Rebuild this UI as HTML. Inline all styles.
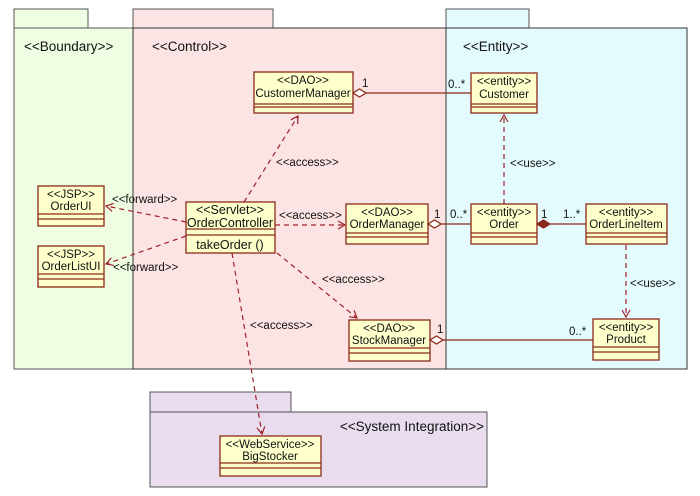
<!DOCTYPE html>
<html><head><meta charset="utf-8"><style>
html,body{margin:0;padding:0;background:#fff;width:700px;height:496px;overflow:hidden}
svg text{font-family:"Liberation Sans","Noto Sans CJK JP",sans-serif;fill:#111}
</style></head><body>
<svg width="700" height="496" viewBox="0 0 700 496" xmlns="http://www.w3.org/2000/svg">
<defs>
<marker id="ah" markerWidth="10" markerHeight="10" refX="8" refY="5" orient="auto" markerUnits="userSpaceOnUse">
<path d="M1,1 L8,5 L1,9" fill="none" stroke="#a0202a" stroke-width="1.2"/>
</marker>
</defs>
<rect x="14" y="9" width="74" height="19" fill="#effde3" stroke="#555" stroke-width="1"/>
<rect x="14" y="28" width="119" height="341" fill="#effde3" stroke="#555" stroke-width="1"/>
<rect x="133" y="9" width="140" height="19" fill="#fde4e4" stroke="#555" stroke-width="1"/>
<rect x="133" y="28" width="313" height="341" fill="#fde4e4" stroke="#333" stroke-width="1"/>
<rect x="446" y="9" width="83" height="19" fill="#e4fbfd" stroke="#555" stroke-width="1"/>
<rect x="446" y="28" width="241" height="341" fill="#e4fbfd" stroke="#333" stroke-width="1"/>
<rect x="150" y="392" width="141" height="20" fill="#e8dcee" stroke="#555" stroke-width="1"/>
<rect x="150" y="412" width="337" height="75" fill="#e8dcee" stroke="#555" stroke-width="1"/>
<text x="24" y="51" font-size="13.5">&lt;&lt;Boundary&gt;&gt;</text>
<text x="152" y="51" font-size="13.5">&lt;&lt;Control&gt;&gt;</text>
<text x="463" y="51" font-size="13.5">&lt;&lt;Entity&gt;&gt;</text>
<text x="484" y="431" font-size="13.5" text-anchor="end">&lt;&lt;System Integration&gt;&gt;</text>

<g stroke="#8b2a1a" stroke-width="1.3" fill="#ffffcc">
<rect x="254" y="72" width="99" height="41"/><line x1="254" y1="104" x2="353" y2="104"/><line x1="254" y1="107" x2="353" y2="107"/>
<rect x="471" y="73" width="66" height="40"/><line x1="471" y1="104" x2="537" y2="104"/><line x1="471" y1="107" x2="537" y2="107"/>
<rect x="38" y="186" width="66" height="40"/><line x1="38" y1="214" x2="104" y2="214"/><line x1="38" y1="219" x2="104" y2="219"/>
<rect x="38" y="246" width="66" height="41"/><line x1="38" y1="274" x2="104" y2="274"/><line x1="38" y1="279" x2="104" y2="279"/>
<rect x="186" y="202" width="89" height="51"/><line x1="186" y1="229" x2="275" y2="229"/><line x1="186" y1="235" x2="275" y2="235"/>
<rect x="346" y="204" width="82" height="40"/><line x1="346" y1="233" x2="428" y2="233"/><line x1="346" y1="237" x2="428" y2="237"/>
<rect x="471" y="204" width="66" height="40"/><line x1="471" y1="233" x2="537" y2="233"/><line x1="471" y1="237" x2="537" y2="237"/>
<rect x="586" y="204" width="81" height="40"/><line x1="586" y1="233" x2="667" y2="233"/><line x1="586" y1="237" x2="667" y2="237"/>
<rect x="349" y="320" width="81" height="41"/><line x1="349" y1="348" x2="430" y2="348"/><line x1="349" y1="353" x2="430" y2="353"/>
<rect x="593" y="319" width="66" height="41"/><line x1="593" y1="347" x2="659" y2="347"/><line x1="593" y1="352" x2="659" y2="352"/>
<rect x="220" y="436" width="101" height="40"/><line x1="220" y1="463" x2="321" y2="463"/><line x1="220" y1="468" x2="321" y2="468"/>
</g>
<g font-size="11.5" text-anchor="middle">
<text x="303" y="84">&lt;&lt;DAO&gt;&gt;</text><text x="303" y="97">CustomerManager</text>
<text x="504" y="85">&lt;&lt;entity&gt;&gt;</text><text x="504" y="98">Customer</text>
<text x="71" y="198">&lt;&lt;JSP&gt;&gt;</text><text x="71" y="210">OrderUI</text>
<text x="71" y="258">&lt;&lt;JSP&gt;&gt;</text><text x="71" y="270">OrderListUI</text>
<text x="230" y="214" font-size="12.5">&lt;&lt;Servlet&gt;&gt;</text><text x="230" y="227" font-size="12.5">OrderController</text>
<text x="230" y="249" font-size="12.5">takeOrder ()</text>
<text x="387" y="216">&lt;&lt;DAO&gt;&gt;</text><text x="387" y="228">OrderManager</text>
<text x="504" y="216">&lt;&lt;entity&gt;&gt;</text><text x="504" y="228">Order</text>
<text x="626" y="216">&lt;&lt;entity&gt;&gt;</text><text x="626" y="228">OrderLineItem</text>
<text x="389" y="332">&lt;&lt;DAO&gt;&gt;</text><text x="389" y="344">StockManager</text>
<text x="626" y="331">&lt;&lt;entity&gt;&gt;</text><text x="626" y="343">Product</text>
<text x="270" y="448">&lt;&lt;WebService&gt;&gt;</text><text x="270" y="460">BigStocker</text>
</g>

<g stroke="#8b2a1a" stroke-width="1.3">
<line x1="366" y1="93" x2="471" y2="93"/>
<path d="M353,93 L359.5,89 L366,93 L359.5,97 Z" fill="#fff"/>
<line x1="441" y1="224" x2="471" y2="224"/>
<path d="M428,224 L434.5,220 L441,224 L434.5,228 Z" fill="#fff"/>
<line x1="550" y1="224" x2="586" y2="224"/>
<path d="M537,224 L543.5,220 L550,224 L543.5,228 Z" fill="#8b2a1a"/>
<line x1="443" y1="340" x2="593" y2="340"/>
<path d="M430,340 L436.5,336 L443,340 L436.5,344 Z" fill="#fff"/>
</g>
<g font-size="11.5">
<text x="362" y="87">1</text><text x="448" y="88">0..*</text>
<text x="434" y="218">1</text><text x="450" y="218">0..*</text>
<text x="541" y="218">1</text><text x="563" y="218">1..*</text>
<text x="437" y="333">1</text><text x="569" y="335">0..*</text>
</g>

<g stroke="#a0202a" stroke-width="1.2" stroke-dasharray="5,4" fill="none" marker-end="url(#ah)">
<line x1="244" y1="202" x2="298" y2="116"/>
<line x1="275" y1="225" x2="345" y2="225"/>
<line x1="277" y1="253" x2="357" y2="318"/>
<line x1="232" y1="253" x2="262" y2="434"/>
<line x1="186" y1="222" x2="106" y2="206"/>
<line x1="186" y1="236" x2="106" y2="264"/>
<line x1="504" y1="204" x2="504" y2="115"/>
<line x1="626" y1="245" x2="626" y2="317"/>
</g>
<g font-size="11.5">
<text x="276" y="166">&lt;&lt;access&gt;&gt;</text>
<text x="279" y="219">&lt;&lt;access&gt;&gt;</text>
<text x="322" y="283">&lt;&lt;access&gt;&gt;</text>
<text x="250" y="329">&lt;&lt;access&gt;&gt;</text>
<text x="112" y="203">&lt;&lt;forward&gt;&gt;</text>
<text x="113" y="271">&lt;&lt;forward&gt;&gt;</text>
<text x="510" y="167">&lt;&lt;use&gt;&gt;</text>
<text x="630" y="287">&lt;&lt;use&gt;&gt;</text>
</g>
</svg>
</body></html>
